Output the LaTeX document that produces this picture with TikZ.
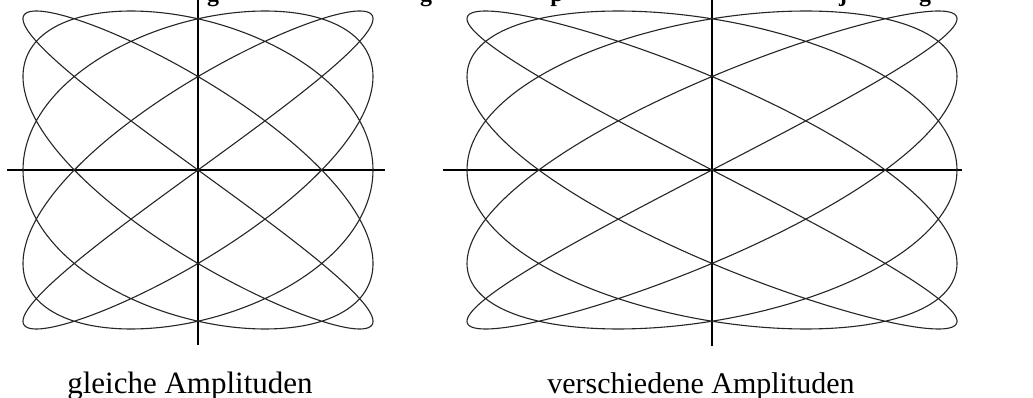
\documentclass[tikz,border=0pt]{standalone}
\usepackage{fontspec}
\setmainfont{Liberation Serif}
\begin{document}
\begin{tikzpicture}[x=1pt,y=-1pt,
  curve/.style={line width=1.1pt,draw=black!85,line join=round},
  axis/.style={line width=1.3pt,draw=black},
  caption/.style={inner sep=0pt,anchor=base},
  frag/.style={font=\fontsize{24}{28}\selectfont\bfseries,inner sep=0pt,anchor=base}]
\useasboundingbox (0,0) rectangle (1033,398);
\fill[white] (0,0) rectangle (1033,398);
% cut-off title (only descenders visible)
\begin{scope}
\clip (0,0) rectangle (1033,398);
\node[frag] (t1) at (213,1.5) {g};
\node[frag] (t2) at (426,1.5) {g};
\node[frag] (t3) at (557,1.5) {p};
\node[frag] (t4) at (843,1.5) {j};
\node[frag] (t5) at (925,1.5) {g};
\end{scope}
% left figure: equal amplitudes
\coordinate (lc) at (198,170);
\draw[axis] (7,170) -- (385,170);
\draw[axis] (198,0) -- (198,345);
\draw[curve] plot[domain=0:360,samples=900,variable=\t]
  ({198+175*sin(5*\t)},{170-159*sin(4*\t)}) -- cycle;
% right figure: different amplitudes
\coordinate (rc) at (712,170);
\draw[axis] (443,170) -- (962,170);
\draw[axis] (712,0) -- (712,346);
\draw[curve] plot[domain=0:360,samples=900,variable=\t]
  ({712+245*sin(5*\t)},{170-159*sin(4*\t)}) -- cycle;
% captions
\node[caption,font=\fontsize{31}{36}\selectfont] (cl) at (190,393) {gleiche Amplituden};
\node[caption,font=\fontsize{30}{36}\selectfont] (cr) at (701,393) {verschiedene Amplituden};
\end{tikzpicture}
\end{document}
